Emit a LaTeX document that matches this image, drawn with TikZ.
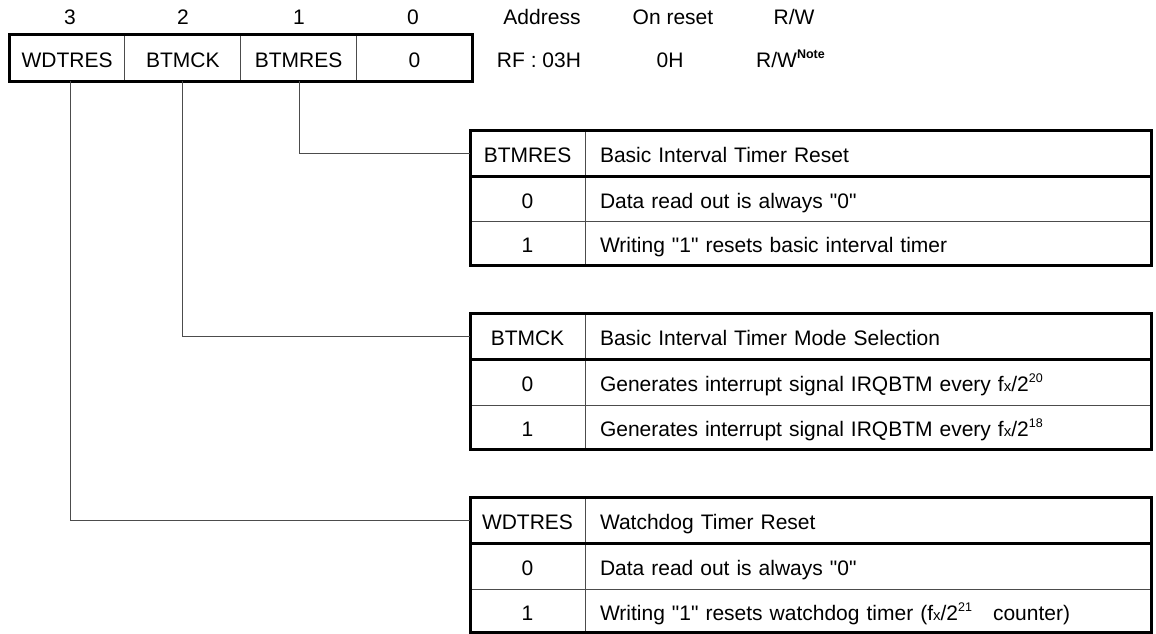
\documentclass[tikz,border=0pt]{standalone}
\usepackage{fontspec}
\setmainfont{Liberation Sans}[Ligatures=TeXOff]
\usetikzlibrary{positioning}

\newcommand\regfont{\fontsize{21}{24}\selectfont}
\newcommand\supnum[1]{\raisebox{0.42em}{\fontsize{12.5}{12.5}\selectfont #1}}
\newcommand\fxtwo[1]{f{\fontsize{15}{15}\selectfont x}/2\supnum{#1}}

\begin{document}
\begin{tikzpicture}[x=1pt, y=-1pt, every node/.style={font=\regfont, text height=20pt, text depth=1pt},
  thinline/.style={draw=black!70, line width=1pt},
  thickline/.style={draw=black, line width=3pt},
  link/.style={draw=black!70, line width=1pt},
  regcell/.style={thinline, minimum width=115.75pt, minimum height=46pt, inner sep=0pt, outer sep=0pt},
  keycell/.style={thinline, anchor=north west, minimum width=115pt, inner sep=0pt, outer sep=0pt},
  desccell/.style={thinline, minimum width=566pt, text width=536pt, align=left, inner xsep=15pt, inner ysep=0pt, outer sep=0pt}]
  \useasboundingbox (0,0) rectangle (1156,634);
  % bit positions
  \node (num3) at (70,15) {3};
  \node (num2) at (183,15) {2};
  \node (num1) at (299,15) {1};
  \node (num0) at (413,15) {0};
  % address, reset value, access
  \node (hAddr) at (542,15) {Address};
  \node (hRst) at (673,15) {On reset};
  \node (hRW) at (794,15) {R/W};
  \node (vAddr) at (539,58) {RF : 03H};
  \node (vRst) at (670,58) {0H};
  \node[anchor=west, inner sep=0pt] (vRW) at (756,58) {R/W\raisebox{0.45em}{\fontsize{12.5}{12.5}\selectfont\bfseries Note}};
  % register
  \node[regcell] (bWDTRES) at (67.1,58) {WDTRES};
  \node[regcell, right=0pt of bWDTRES] (bBTMCK) {BTMCK};
  \node[regcell, right=0pt of bBTMCK] (bBTMRES) {BTMRES};
  \node[regcell, right=0pt of bBTMRES] (bZero) {0};
  \draw[thickline] (bWDTRES.north west) rectangle (bZero.south east);
  % BTMRES table
  \node[keycell, minimum height=46pt] (tBTMRES) at (470,130) {BTMRES};
  \node[desccell, minimum height=46pt, right=0pt of tBTMRES] (tBTMRESd) {Basic Interval Timer Reset};
  \node[keycell, minimum height=45pt, below=0pt of tBTMRES] (tBTMRES0) {0};
  \node[desccell, minimum height=45pt, right=0pt of tBTMRES0] (tBTMRES0d) {Data read out is always "0"};
  \node[keycell, minimum height=44pt, below=0pt of tBTMRES0] (tBTMRES1) {1};
  \node[desccell, minimum height=44pt, right=0pt of tBTMRES1] (tBTMRES1d) {Writing "1" resets basic interval timer};
  \draw[thickline] (tBTMRES.north west) rectangle (tBTMRES1d.south east);
  \draw[thickline] (tBTMRES.south west) -- (tBTMRESd.south east);
  % BTMCK table
  \node[keycell, minimum height=46pt] (tBTMCK) at (470,313) {BTMCK};
  \node[desccell, minimum height=46pt, right=0pt of tBTMCK] (tBTMCKd) {Basic Interval Timer Mode Selection};
  \node[keycell, minimum height=46pt, below=0pt of tBTMCK] (tBTMCK0) {0};
  \node[desccell, minimum height=46pt, right=0pt of tBTMCK0] (tBTMCK0d) {Generates interrupt signal IRQBTM every \fxtwo{20}};
  \node[keycell, minimum height=44pt, below=0pt of tBTMCK0] (tBTMCK1) {1};
  \node[desccell, minimum height=44pt, right=0pt of tBTMCK1] (tBTMCK1d) {Generates interrupt signal IRQBTM every \fxtwo{18}};
  \draw[thickline] (tBTMCK.north west) rectangle (tBTMCK1d.south east);
  \draw[thickline] (tBTMCK.south west) -- (tBTMCKd.south east);
  % WDTRES table
  \node[keycell, minimum height=46pt] (tWDTRES) at (470,497) {WDTRES};
  \node[desccell, minimum height=46pt, right=0pt of tWDTRES] (tWDTRESd) {Watchdog Timer Reset};
  \node[keycell, minimum height=46pt, below=0pt of tWDTRES] (tWDTRES0) {0};
  \node[desccell, minimum height=46pt, right=0pt of tWDTRES0] (tWDTRES0d) {Data read out is always "0"};
  \node[keycell, minimum height=43pt, below=0pt of tWDTRES0] (tWDTRES1) {1};
  \node[desccell, minimum height=43pt, right=0pt of tWDTRES1] (tWDTRES1d) {Writing "1" resets watchdog timer (\fxtwo{21}\hspace{21pt}counter)};
  \draw[thickline] (tWDTRES.north west) rectangle (tWDTRES1d.south east);
  \draw[thickline] (tWDTRES.south west) -- (tWDTRESd.south east);
  % bit to table
  \draw[link] ([xshift=0.5pt]bBTMRES.south) |- (tBTMRES.west);
  \draw[link] (bBTMCK.south) |- (tBTMCK.west);
  \draw[link] ([xshift=3pt]bWDTRES.south) |- (tWDTRES.west);
\end{tikzpicture}
\end{document}
